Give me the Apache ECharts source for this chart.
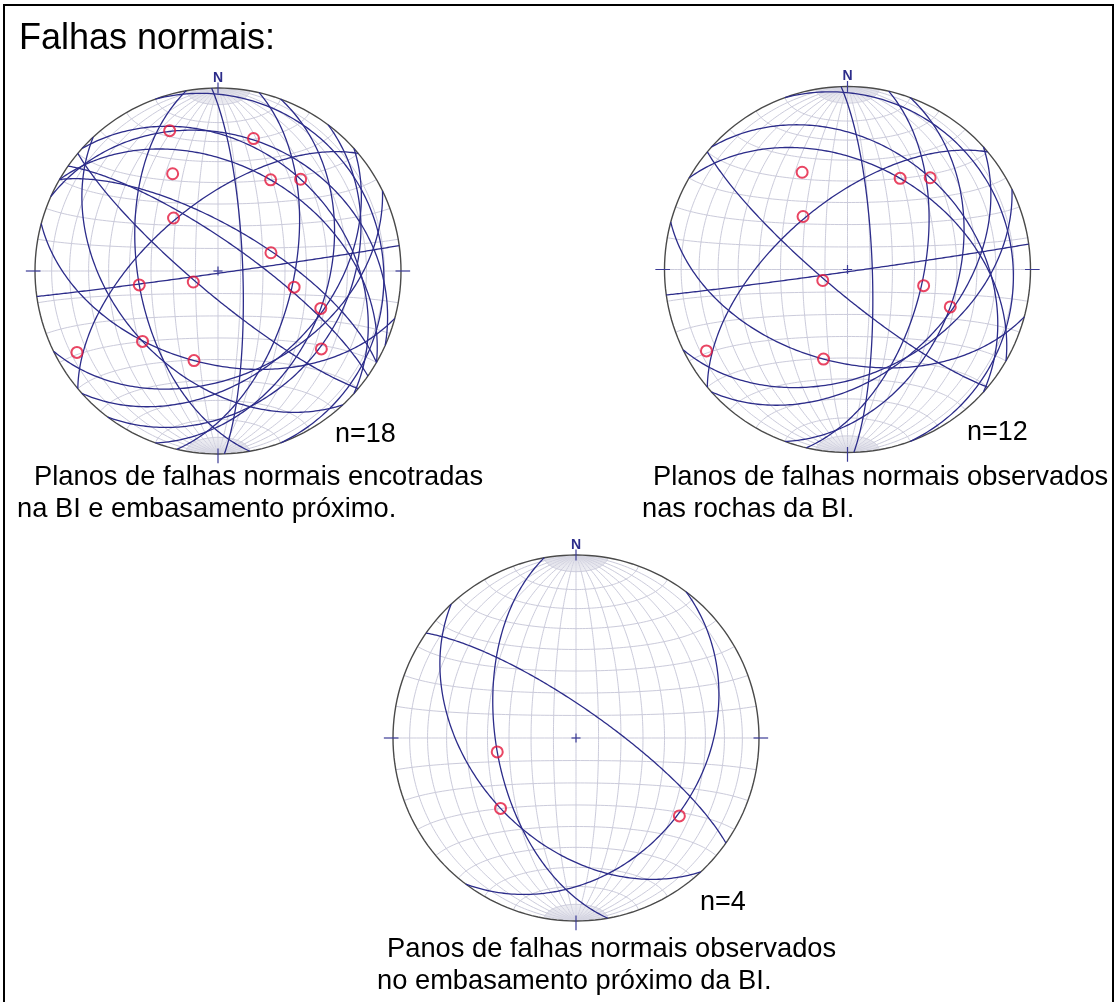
<!DOCTYPE html>
<html>
<head>
<meta charset="utf-8">
<title>Falhas normais</title>
<script src="https://cdn.jsdelivr.net/npm/echarts@6/dist/echarts.min.js"></script>
<style>
  body { margin: 0; background: #fff; }
  #main { width: 1116px; height: 1002px; }
</style>
</head>
<body>
<div id="main"></div>
<script>
// planos: [direção (mão direita), mergulho]   lineações: [sentido, caimento]
const planosBI = [[82, 89], [358, 79], [64, 42], [48, 42], [300, 42], [312, 33], [230, 60], [130, 80], [13, 56], [20, 40], [340, 11], [105, 48]];
const lineacoesBI = [[335, 41], [30, 42], [42, 33], [320, 59], [246, 78], [102, 55], [110, 40], [240, 12], [195, 48]];
const planosEmb = [[170, 54], [305, 77], [137, 43], [37, 31]];
const lineacoesEmb = [[260, 54], [227, 43], [127, 30]];
const planosOutros = [[294, 27], [300, 70]];
const lineacoesOutros = [[341, 20], [15, 26], [71, 65]];

const R = 183;      // raio do primitivo em px
const SPAN = 1.1;

const nets = [
    { cx: 218, cy: 271, planos: planosBI.concat(planosEmb, planosOutros), lins: lineacoesBI.concat(lineacoesEmb, lineacoesOutros) },
    { cx: 847.5, cy: 269.5, planos: planosBI, lins: lineacoesBI },
    { cx: 576, cy: 738, planos: planosEmb, lins: lineacoesEmb }
];

const rad = d => d * Math.PI / 180;

// projeção de Schmidt (igual área), hemisfério inferior; v = [leste, norte, baixo]
function proj(v) {
    let [x, y, z] = v;
    if (z < 0) { x = -x; y = -y; z = -z; }
    const k = 1 / Math.sqrt(1 + z);
    return [x * k, y * k];
}

function grandeCirculo(strike, dip) {
    const s = [Math.sin(rad(strike)), Math.cos(rad(strike)), 0];
    const dd = rad(strike + 90);
    const d = [Math.cos(rad(dip)) * Math.sin(dd), Math.cos(rad(dip)) * Math.cos(dd), Math.sin(rad(dip))];
    const pts = [];
    for (let t = 0; t <= 180; t += 1) {
        const c = Math.cos(rad(t)), sn = Math.sin(rad(t));
        pts.push(proj([c * s[0] + sn * d[0], c * s[1] + sn * d[1], c * s[2] + sn * d[2]]));
    }
    return pts;
}

function linea(trend, plunge) {
    const p = rad(plunge), t = rad(trend);
    return proj([Math.cos(p) * Math.sin(t), Math.cos(p) * Math.cos(t), Math.sin(p)]);
}

// ponto da rede com eixo N-S: a = distância ao polo N, f = ângulo em torno do eixo
function pontoRede(a, f) {
    return proj([Math.sin(rad(a)) * Math.cos(rad(f)), Math.cos(rad(a)), Math.sin(rad(a)) * Math.sin(rad(f))]);
}

function linhasRede() {
    const out = [];
    for (let f = 10; f <= 170; f += 10) {
        const c = [];
        for (let a = 0; a <= 180; a += 1) c.push(pontoRede(a, f));
        out.push({ coords: c });
    }
    for (let a = 10; a <= 170; a += 10) {
        const c = [];
        for (let f = 0; f <= 180; f += 2) c.push(pontoRede(a, f));
        out.push({ coords: c });
    }
    return out;
}

// leque junto aos polos
function leque() {
    const out = [];
    for (let f = 2; f < 180; f += 2) {
        if (f % 10 === 0) continue;
        out.push({ coords: [pontoRede(0, f), pontoRede(10, f)] });
        out.push({ coords: [pontoRede(170, f), pontoRede(180, f)] });
    }
    return out;
}

function primitivo() {
    const c = [];
    for (let a = 0; a <= 360; a += 2) c.push([Math.sin(rad(a)), Math.cos(rad(a))]);
    return [{ coords: c }];
}

function marcas() {
    const k = 0.025;
    return [
        { coords: [[-k, 0], [k, 0]] }, { coords: [[0, -k], [0, k]] },
        { coords: [[0.97, 0], [1.05, 0]] }, { coords: [[-0.97, 0], [-1.05, 0]] },
        { coords: [[0, -0.97], [0, -1.05]] }, { coords: [[0, 0.97], [0, 1.03]] }
    ];
}

const grids = [], xAxes = [], yAxes = [], series = [], graphics = [];
nets.forEach((n, i) => {
    const half = R * SPAN;
    grids.push({ left: n.cx - half, top: n.cy - half, width: 2 * half, height: 2 * half });
    xAxes.push({ type: 'value', gridIndex: i, min: -SPAN, max: SPAN, show: false });
    yAxes.push({ type: 'value', gridIndex: i, min: -SPAN, max: SPAN, show: false });
    const base = { type: 'lines', coordinateSystem: 'cartesian2d', xAxisIndex: i, yAxisIndex: i, polyline: true, silent: true, animation: false };
    series.push(Object.assign({}, base, { data: linhasRede(), lineStyle: { color: '#cbcbdb', width: 1, opacity: 1 }, z: 1 }));
    series.push(Object.assign({}, base, { data: leque(), lineStyle: { color: '#d6d6e2', width: 0.5, opacity: 1 }, z: 1 }));
    series.push(Object.assign({}, base, { data: primitivo(), lineStyle: { color: '#4a4a4a', width: 1.4, opacity: 1 }, z: 2 }));
    series.push(Object.assign({}, base, { data: n.planos.map(p => ({ coords: grandeCirculo(p[0], p[1]) })), lineStyle: { color: '#2c2c8a', width: 1.3, opacity: 1 }, z: 3 }));
    series.push(Object.assign({}, base, { data: marcas(), lineStyle: { color: '#3b3b96', width: 1.2, opacity: 1 }, z: 3 }));
    series.push({
        type: 'scatter', xAxisIndex: i, yAxisIndex: i, silent: true, animation: false, z: 4,
        symbol: 'circle', symbolSize: 11,
        itemStyle: { color: 'rgba(255,255,255,0)', borderColor: '#e3163c', borderWidth: 2 },
        data: n.lins.map(l => linea(l[0], l[1]))
    });
    graphics.push({
        type: 'text', x: n.cx, y: n.cy - R - 10,
        style: { text: 'N', font: 'bold 14px "Liberation Sans", Arial, sans-serif', fill: '#2c2c8a', textAlign: 'center', textVerticalAlign: 'middle' }
    });
});

const fonte = '"Liberation Sans", Arial, sans-serif';
const textos = [
    ['Falhas normais:', 19, 39, 36],
    ['n=18', 335, 435, 27],
    ['n=12', 967, 433, 27],
    ['n=4', 700, 903, 27],
    ['Planos de falhas normais encotradas', 34, 477, 27.3],
    ['na BI e embasamento próximo.', 17, 509, 27.3],
    ['Planos de falhas normais observados', 653, 477, 27.3],
    ['nas rochas da BI.', 642, 509, 27.3],
    ['Panos de falhas normais observados', 387, 949, 27.3],
    ['no embasamento próximo da BI.', 377, 981, 27.3]
];
textos.forEach(t => graphics.push({
    type: 'text', x: t[1], y: t[2],
    style: { text: t[0], font: t[3] + 'px ' + fonte, fill: '#000', textAlign: 'left', textVerticalAlign: 'middle' }
}));
graphics.push({
    type: 'rect', shape: { x: 4, y: 5, width: 1109, height: 1010 },
    style: { fill: 'none', stroke: '#000', lineWidth: 2 }
});

const chart = echarts.init(document.getElementById('main'));
chart.setOption({
    backgroundColor: '#fff',
    animation: false,
    grid: grids,
    xAxis: xAxes,
    yAxis: yAxes,
    series: series,
    graphic: graphics
});
</script>
</body>
</html>
